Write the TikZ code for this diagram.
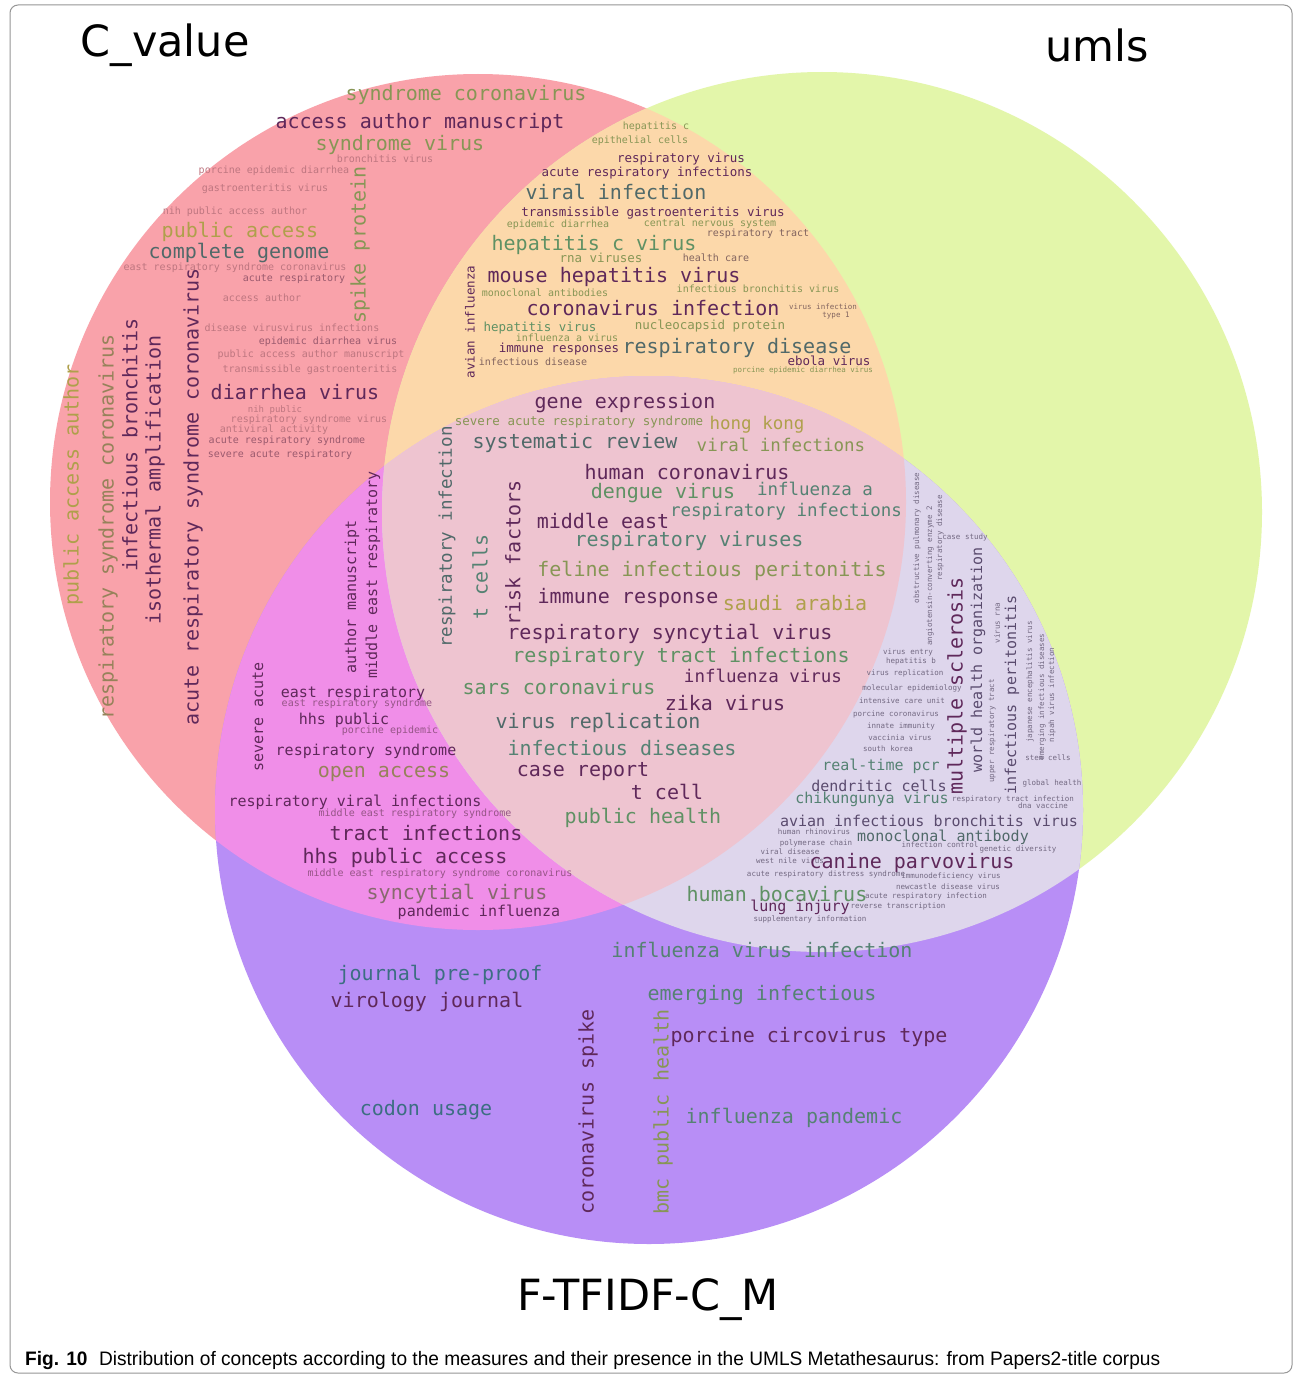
\documentclass[tikz,border=0pt]{standalone}
\usepackage{fontspec}
\usepackage{graphicx}
\newfontfamily\wcf{DejaVu Sans Mono}
\newfontfamily\ttlf{DejaVu Sans}
\newfontfamily\capf{Liberation Sans}
\definecolor{fR}{RGB}{249,162,170}
\definecolor{fG}{RGB}{227,246,170}
\definecolor{fP}{RGB}{184,142,246}
\definecolor{fRG}{RGB}{252,216,170}
\definecolor{fRP}{RGB}{240,142,232}
\definecolor{fGP}{RGB}{222,214,236}
\definecolor{fRGP}{RGB}{238,196,208}
\definecolor{tD}{RGB}{95,40,90}
\definecolor{tT}{RGB}{80,105,105}
\definecolor{tG}{RGB}{95,145,100}
\definecolor{tH}{RGB}{85,130,115}
\definecolor{tO}{RGB}{135,150,85}
\definecolor{tY}{RGB}{175,160,75}
\definecolor{tB}{RGB}{150,130,90}
\definecolor{tM}{RGB}{130,100,95}
\definecolor{tF}{RGB}{190,118,128}
\definecolor{tQ}{RGB}{155,90,110}
\definecolor{tP}{RGB}{150,85,135}
\definecolor{tS}{RGB}{135,105,110}
\definecolor{tL}{RGB}{115,105,130}
\definecolor{tL2}{RGB}{90,75,110}
\definecolor{tC}{RGB}{60,110,130}
\definecolor{frame}{RGB}{150,150,150}
\newcounter{wcn}
\tikzset{wtext/.style={inner sep=0pt,anchor=center}}
\newcommand\wcw[5]{\stepcounter{wcn}\node[wtext,text=#4,font=\wcf\fontsize{#3}{#3}\selectfont] (w\arabic{wcn}) at (#1,#2) {#5};}
\newcommand\wcv[5]{\stepcounter{wcn}\node[wtext,text=#4,rotate=90,font=\wcf\fontsize{#3}{#3}\selectfont] (w\arabic{wcn}) at (#1,#2) {#5};}
\begin{document}
\begin{tikzpicture}[x=1pt,y=-1pt]
\useasboundingbox (0,0) rectangle (1295,1378);
\fill[white] (0,0) rectangle (1295,1378);
\coordinate (cR) at (478,502);
\coordinate (cG) at (822,512);
\coordinate (cP) at (649,810);
% base circles
\fill[fR] (cR) circle (428pt);
\fill[fG] (cG) circle (440pt);
\fill[fP] (cP) circle (434pt);
\begin{scope}
\clip (cR) circle (428pt);
\fill[fRG] (cG) circle (440pt);
\fill[fRP] (cP) circle (434pt);
\end{scope}
\begin{scope}
\clip (cG) circle (440pt);
\fill[fGP] (cP) circle (434pt);
\end{scope}
\begin{scope}
\clip (cR) circle (428pt);
\clip (cG) circle (440pt);
\fill[fRGP] (cP) circle (434pt);
\end{scope}
% frame
\draw[frame,line width=1pt,rounded corners=8pt] (10,5) rectangle (1292,1373);
% titles
\node[font=\ttlf\fontsize{43}{43}\selectfont,inner sep=0pt] (tC) at (165,45) {C\_value};
\node[font=\ttlf\fontsize{43}{43}\selectfont,inner sep=0pt] (tU) at (1097,45) {umls};
\node[font=\ttlf\fontsize{43}{43}\selectfont,inner sep=0pt] (tF) at (648,1300) {F-TFIDF-C\_M};
\node[anchor=west,inner sep=0pt,font=\capf\fontsize{19.5}{19.5}\selectfont] (cap) at (25,1360) {\resizebox{1135pt}{\height}{\textbf{Fig. 10}\hspace{0.6em}Distribution of concepts according to the measures and their presence in the UMLS Metathesaurus: from Papers2-title corpus}};
% ---------- C_value only ----------
\wcw{466}{95}{20}{tO}{syndrome coronavirus}
\wcw{420}{123}{20}{tD}{access author manuscript}
\wcw{400}{145}{20}{tO}{syndrome virus}
\wcw{385}{159}{10}{tF}{bronchitis virus}
\wcw{274}{171}{10}{tF}{porcine epidemic diarrhea}
\wcw{265}{189}{10}{tF}{gastroenteritis virus}
\wcw{235}{212}{10}{tF}{nih public access author}
\wcw{240}{232}{20}{tY}{public access}
\wcw{239}{253}{20}{tT}{complete genome}
\wcw{235}{268}{10}{tF}{east respiratory syndrome coronavirus}
\wcw{294}{279}{10}{tQ}{acute respiratory}
\wcw{262}{298}{10}{tF}{access author}
\wcw{292}{328}{10}{tF}{disease virusvirus infections}
\wcw{328}{342}{10}{tQ}{epidemic diarrhea virus}
\wcw{311}{355}{10}{tF}{public access author manuscript}
\wcw{310}{370}{10}{tF}{transmissible gastroenteritis}
\wcw{295}{392}{20}{tD}{diarrhea virus}
\wcw{275}{410}{9}{tF}{nih public}
\wcw{309}{420}{10}{tF}{respiratory syndrome virus}
\wcw{274}{430}{10}{tF}{antiviral activity}
\wcw{287}{441}{10}{tQ}{acute respiratory syndrome}
\wcw{280}{455}{10}{tQ}{severe acute respiratory}
\wcv{360}{245}{20}{tO}{spike protein}
\wcv{193}{497}{20}{tD}{acute respiratory syndrome coronavirus}
\wcv{155}{480}{20}{tD}{isothermal amplification}
\wcv{130}{445}{20}{tD}{infectious bronchitis}
\wcv{108}{527}{20}{tB}{respiratory syndrome coronavirus}
\wcv{73}{485}{20}{tY}{public access author}
% ---------- C_value & umls ----------
\wcw{656}{127}{10}{tO}{hepatitis c}
\wcw{640}{141}{10}{tO}{epithelial cells}
\wcw{681}{159}{12.5}{tD}{respiratory virus}
\wcw{647}{173}{12.5}{tD}{acute respiratory infections}
\wcw{616}{192}{20}{tT}{viral infection}
\wcw{653}{213}{12.5}{tD}{transmissible gastroenteritis virus}
\wcw{558}{225}{10}{tO}{epidemic diarrhea}
\wcw{710}{224}{10}{tO}{central nervous system}
\wcw{758}{234}{10}{tM}{respiratory tract}
\wcw{594}{245}{20}{tG}{hepatitis c virus}
\wcw{601}{258}{12.5}{tO}{rna viruses}
\wcw{716}{258}{10}{tM}{health care}
\wcw{614}{277}{20}{tD}{mouse hepatitis virus}
\wcw{545}{293}{10}{tO}{monoclonal antibodies}
\wcw{758}{289}{10}{tO}{infectious bronchitis virus}
\wcv{470}{322}{12.5}{tD}{avian influenza}
\wcw{653}{308}{20}{tD}{coronavirus infection}
\wcw{823}{307}{7.5}{tM}{virus infection}
\wcw{836}{316}{7.5}{tM}{type 1}
\wcw{540}{328}{12.5}{tG}{hepatitis virus}
\wcw{710}{326}{12.5}{tO}{nucleocapsid protein}
\wcw{567}{338}{10}{tO}{influenza a virus}
\wcw{559}{349}{12.5}{tD}{immune responses}
\wcw{737}{348}{20}{tT}{respiratory disease}
\wcw{533}{362}{10}{tM}{infectious disease}
\wcw{829}{361}{12.5}{tD}{ebola virus}
\wcw{803}{370}{7.5}{tO}{porcine epidemic diarrhea virus}
% ---------- all three ----------
\wcw{625}{403}{20}{tD}{gene expression}
\wcw{579}{422}{12.5}{tO}{severe acute respiratory syndrome}
\wcw{757}{425}{17.5}{tY}{hong kong}
\wcw{575}{443}{20}{tT}{systematic review}
\wcw{781}{445}{17.5}{tO}{viral infections}
\wcw{687}{472}{20}{tD}{human coronavirus}
\wcw{663}{493}{20}{tG}{dengue virus}
\wcw{815}{489}{17.5}{tH}{influenza a}
\wcw{603}{521}{20}{tD}{middle east}
\wcw{786}{512}{17.5}{tH}{respiratory infections}
\wcw{689}{541}{20}{tH}{respiratory viruses}
\wcw{712}{571}{20}{tO}{feline infectious peritonitis}
\wcw{628}{598}{20}{tD}{immune response}
\wcw{795}{603}{20}{tY}{saudi arabia}
\wcv{447}{537}{17.5}{tT}{respiratory infection}
\wcv{480}{577}{20}{tH}{t cells}
\wcv{513}{553}{20}{tD}{risk factors}
\wcw{670}{634}{20}{tD}{respiratory syncytial virus}
\wcw{681}{657}{20}{tG}{respiratory tract infections}
\wcw{763}{676}{17.5}{tD}{influenza virus}
\wcw{559}{687}{20}{tG}{sars coronavirus}
\wcw{725}{703}{20}{tD}{zika virus}
\wcw{598}{723}{20}{tT}{virus replication}
\wcw{622}{748}{20}{tH}{infectious diseases}
\wcw{583}{772}{20}{tD}{case report}
\wcw{667}{792}{20}{tD}{t cell}
\wcw{643}{818}{20}{tG}{public health}
% ---------- C_value & F-TFIDF ----------
\wcv{352}{597}{15}{tD}{author manuscript}
\wcv{373}{575}{15}{tD}{middle east respiratory}
\wcv{258}{717}{15}{tD}{severe acute}
\wcw{353}{693}{15}{tD}{east respiratory}
\wcw{357}{704}{10}{tP}{east respiratory syndrome}
\wcw{344}{720}{15}{tD}{hhs public}
\wcw{390}{731}{10}{tP}{porcine epidemic}
\wcw{366}{751}{15}{tD}{respiratory syndrome}
\wcw{384}{774}{20}{tB}{open access}
\wcw{355}{802}{15}{tD}{respiratory viral infections}
\wcw{415}{814}{10}{tP}{middle east respiratory syndrome}
\wcw{426}{833}{20}{tD}{tract infections}
\wcw{405}{858}{20}{tD}{hhs public access}
\wcw{440}{874}{10}{tP}{middle east respiratory syndrome coronavirus}
\wcw{457}{894}{20}{tS}{syncytial virus}
\wcw{479}{912}{15}{tD}{pandemic influenza}
% ---------- umls & F-TFIDF ----------
\wcv{917}{538}{7.5}{tL}{obstructive pulmonary disease}
\wcv{930}{576}{7.5}{tL}{angiotensin-converting enzyme 2}
\wcv{940}{538}{7.5}{tL}{respiratory disease}
\wcw{965}{537}{7.5}{tL}{case study}
\wcv{957}{686}{20}{tD}{multiple sclerosis}
\wcv{978}{660}{15}{tL2}{world health organization}
\wcv{997}{623}{7.5}{tL}{virus rna}
\wcv{992}{731}{7.5}{tL}{upper respiratory tract}
\wcv{1012}{695}{15}{tL2}{infectious peritonitis}
\wcv{1030}{682}{7.5}{tL}{japanese encephalitis virus}
\wcv{1042}{697}{7.5}{tL}{emerging infectious diseases}
\wcv{1052}{695}{7.5}{tL}{nipah virus infection}
\wcw{1048}{758}{7.5}{tL}{stem cells}
\wcw{1052}{783}{7.5}{tL}{global health}
\wcw{1013}{799}{7.5}{tL}{respiratory tract infection}
\wcw{1043}{806}{7.5}{tL}{dna vaccine}
\wcw{908}{652}{7.5}{tL}{virus entry}
\wcw{911}{661}{7.5}{tL}{hepatitis b}
\wcw{905}{673}{7.5}{tL}{virus replication}
\wcw{912}{688}{7.5}{tL}{molecular epidemiology}
\wcw{902}{701}{7.5}{tL}{intensive care unit}
\wcw{896}{714}{7.5}{tL}{porcine coronavirus}
\wcw{901}{726}{7.5}{tL}{innate immunity}
\wcw{900}{738}{7.5}{tL}{vaccinia virus}
\wcw{888}{749}{7.5}{tL}{south korea}
\wcw{881}{766}{15}{tH}{real-time pcr}
\wcw{879}{786}{15}{tL2}{dendritic cells}
\wcw{872}{799}{15}{tH}{chikungunya virus}
\wcw{929}{821}{15}{tL2}{avian infectious bronchitis virus}
\wcw{814}{832}{7.5}{tL}{human rhinovirus}
\wcw{943}{837}{15}{tT}{monoclonal antibody}
\wcw{816}{843}{7.5}{tL}{polymerase chain}
\wcw{940}{845}{7.5}{tL}{infection control}
\wcw{1018}{849}{7.5}{tL}{genetic diversity}
\wcw{790}{852}{7.5}{tL}{viral disease}
\wcw{790}{861}{7.5}{tL}{west nile virus}
\wcw{912}{863}{20}{tD}{canine parvovirus}
\wcw{826}{874}{7.5}{tL}{acute respiratory distress syndrome}
\wcw{951}{876}{7.5}{tL}{immunodeficiency virus}
\wcw{948}{887}{7.5}{tL}{newcastle disease virus}
\wcw{926}{896}{7.5}{tL}{acute respiratory infection}
\wcw{898}{906}{7.5}{tL}{reverse transcription}
\wcw{777}{894}{20}{tG}{human bocavirus}
\wcw{800}{907}{15}{tD}{lung injury}
\wcw{810}{919}{7.5}{tL}{supplementary information}
% ---------- F-TFIDF only ----------
\wcw{762}{950}{20}{tH}{influenza virus infection}
\wcw{440}{975}{20}{tC}{journal pre-proof}
\wcw{427}{1002}{20}{tD}{virology journal}
\wcw{762}{995}{20}{tH}{emerging infectious}
\wcw{809}{1037}{20}{tD}{porcine circovirus type}
\wcw{426}{1110}{20}{tC}{codon usage}
\wcw{794}{1118}{20}{tH}{influenza pandemic}
\wcv{588}{1112}{20}{tD}{coronavirus spike}
\wcv{663}{1112}{20}{tO}{bmc public health}
\end{tikzpicture}
\end{document}
